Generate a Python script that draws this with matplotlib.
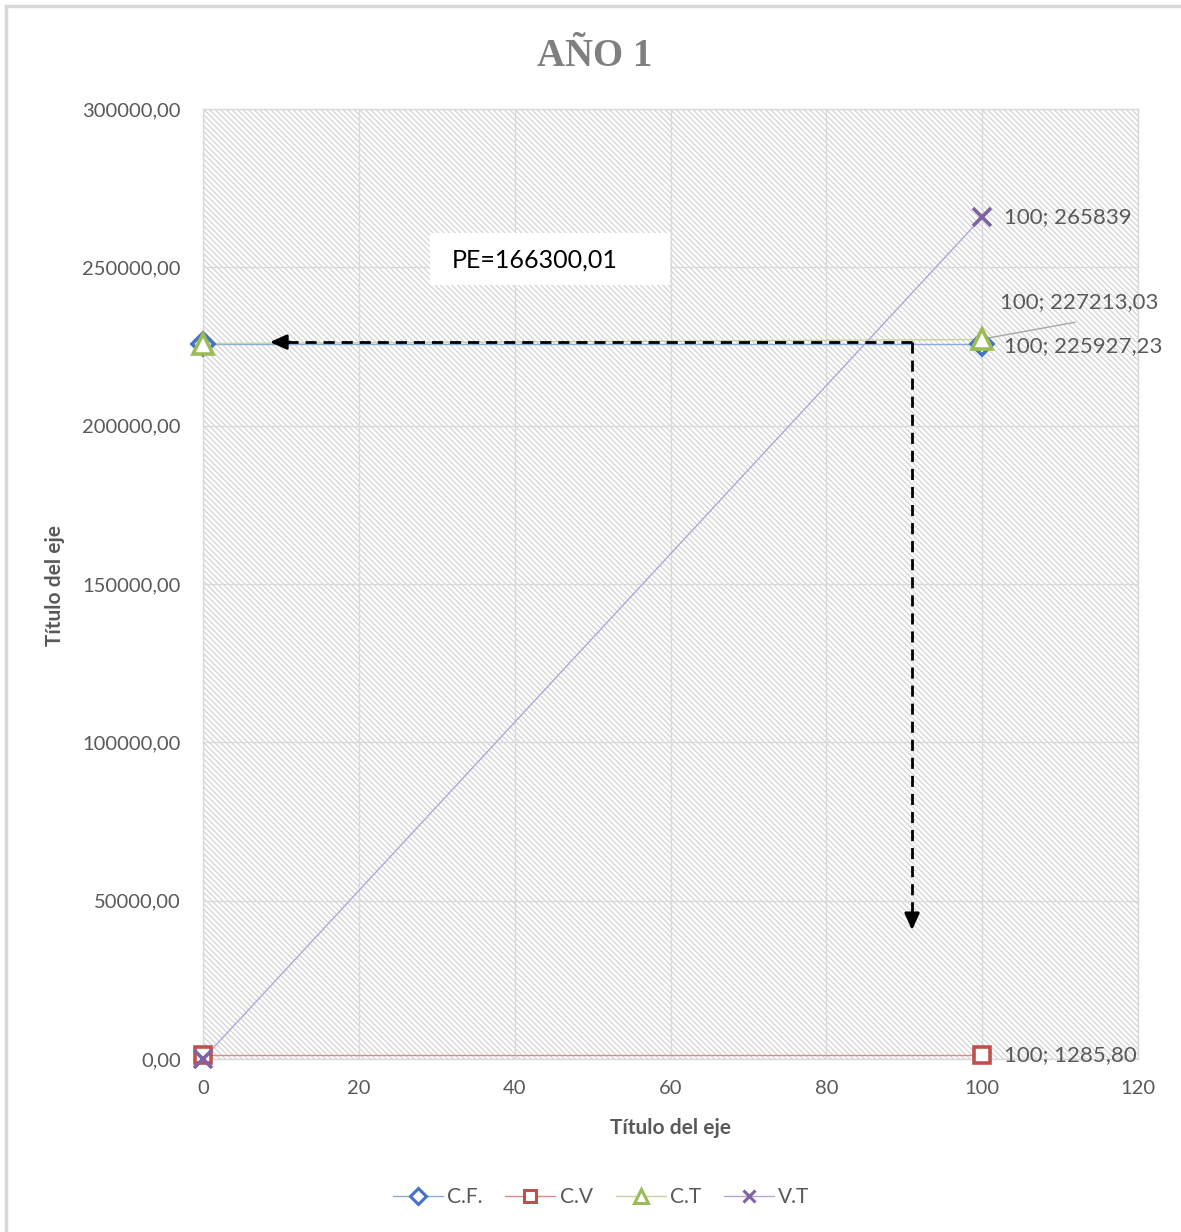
import matplotlib
matplotlib.use("Agg")
import matplotlib.pyplot as plt
from matplotlib.lines import Line2D
from matplotlib.patches import Rectangle
from matplotlib.ticker import FuncFormatter, MultipleLocator

# ---- data ----
x_vals = [0, 100]
cf = [225927.23, 225927.23]
cv = [1285.80, 1285.80]
ct = [225927.23, 227213.03]
vt = [0, 265839]
series_names = ["C.F.", "C.V", "C.T", "V.T"]
title = "AÑO 1"
x_title = "Título del eje"
y_title = "Título del eje"
pe_text = "PE=166300,01"
pe_x = 91
pe_y = 226400
pe_arrow_left_x = 8.6
pe_arrow_bottom_y = 40700

label_font = ["Lato", "DejaVu Sans"]
gray_txt = "#595959"

plt.rcParams["hatch.linewidth"] = 0.9
plt.rcParams["hatch.color"] = "#d3d3d3"

fig = plt.figure(figsize=(11.81, 12.32), dpi=100)
W, H = 1181, 1232
ax = fig.add_axes([203 / W, 1 - 1059 / H, (1138 - 203) / W, (1059 - 109) / H])
ax.set_xlim(0, 120)
ax.set_ylim(0, 300000)

# hatched background
ax.add_patch(Rectangle((0, 0), 1, 1, transform=ax.transAxes, facecolor="white",
                       edgecolor="#d3d3d3", hatch="\\" * 6, linewidth=0, zorder=0))

ax.xaxis.set_major_locator(MultipleLocator(20))
ax.yaxis.set_major_locator(MultipleLocator(50000))
ax.yaxis.set_major_formatter(FuncFormatter(lambda v, p: f"{v:.2f}".replace(".", ",")))
ax.grid(True, color="#d9d9d9", linewidth=1.0, zorder=1)
ax.set_axisbelow(False)
for s in ax.spines.values():
    s.set_color("#d9d9d9")
    s.set_linewidth(1.0)
ax.tick_params(length=0, labelsize=14.5, labelcolor=gray_txt)
ax.tick_params(axis="y", pad=16)
ax.tick_params(axis="x", pad=15)
for lab in ax.get_xticklabels() + ax.get_yticklabels():
    lab.set_fontfamily(label_font)

styles = [
    dict(color="#4472c4", lc="#8eaadb", marker="D", ms=11),
    dict(color="#c0504d", lc="#e08a88", marker="s", ms=12),
    dict(color="#9bbb59", lc="#c3d69b", marker="^", ms=14),
    dict(color="#8064a2", lc="#b4a7d6", marker="x", ms=13),
]
data = [cf, cv, ct, vt]
for ys, st in zip(data, styles):
    ax.plot(x_vals, ys, color=st["lc"], linewidth=1.0, zorder=3, clip_on=False)
    ax.plot(x_vals, ys, linestyle="none", marker=st["marker"], markersize=st["ms"],
            markerfacecolor="white" if st["marker"] != "x" else st["color"],
            markeredgecolor=st["color"], markeredgewidth=2.6, zorder=4, clip_on=False)

# data labels
lab_kw = dict(fontsize=16, color=gray_txt, family=label_font, va="center", ha="left")
ax.annotate(f"{x_vals[1]}; {vt[1]:.0f}", (x_vals[1], vt[1]), xytext=(16, 0),
            textcoords="offset points", **lab_kw)
ax.annotate(f"{x_vals[1]}; {cf[1]:.2f}".replace(".", ","), (x_vals[1], cf[1]), xytext=(16, -2),
            textcoords="offset points", **lab_kw)
ax.annotate(f"{x_vals[1]}; {cv[1]:.2f}".replace(".", ","), (x_vals[1], cv[1]), xytext=(16, 0),
            textcoords="offset points", **lab_kw)
ax.annotate(f"{x_vals[1]}; {ct[1]:.2f}".replace(".", ","), (x_vals[1], ct[1]), xytext=(13, 27),
            textcoords="offset points", **lab_kw)
ax.annotate("", (x_vals[1] + 0.6, ct[1] + 400), xytext=(x_vals[1] + 12.3, ct[1] + 5600),
            arrowprops=dict(arrowstyle="-", color="#a6a6a6", lw=1.0))

# PE arrows
ax.plot([pe_x, pe_arrow_left_x + 2.2], [pe_y, pe_y], color="black", lw=2,
        linestyle=(0, (4, 2.5)), zorder=5)
ax.annotate("", (pe_arrow_left_x, pe_y), xytext=(pe_arrow_left_x + 2.5, pe_y),
            arrowprops=dict(arrowstyle="-|>,head_length=1.0,head_width=0.45",
                            color="black", lw=2, shrinkA=0, shrinkB=0), zorder=5)
ax.plot([pe_x, pe_x], [pe_y, pe_arrow_bottom_y + 5000], color="black", lw=2,
        linestyle=(0, (4, 2.5)), zorder=5)
ax.annotate("", (pe_x, pe_arrow_bottom_y), xytext=(pe_x, pe_arrow_bottom_y + 5500),
            arrowprops=dict(arrowstyle="-|>,head_length=1.0,head_width=0.45",
                            color="black", lw=2, shrinkA=0, shrinkB=0), zorder=5)

# PE text box
ax.add_patch(Rectangle((0.2428, 0.8147), 0.2567, 0.0548, transform=ax.transAxes,
                       facecolor="white", edgecolor="none", zorder=6))
ax.text(0.2663, 0.841, pe_text, transform=ax.transAxes, fontsize=18, color="black",
        family=label_font, va="center", ha="left", zorder=7)

# titles
fig.text(595 / W, 1 - 57 / H, title, fontsize=28, fontweight="bold", color="#7f7f7f",
         family=["Liberation Serif", "DejaVu Serif"], ha="center", va="center")
fig.text(670 / W, 1 - 1128 / H, x_title, fontsize=15, fontweight="bold", color=gray_txt,
         family=label_font, ha="center", va="center")
fig.text(55 / W, 1 - 585 / H, y_title, fontsize=15, fontweight="bold", color=gray_txt,
         family=label_font, ha="center", va="center", rotation=90)

# legend
handles = []
for name, st in zip(series_names, styles):
    handles.append(Line2D([0], [0], color=st["lc"], lw=1.0, marker=st["marker"],
                          markersize=st["ms"] * 0.7,
                          markerfacecolor="white" if st["marker"] != "x" else st["color"],
                          markeredgecolor=st["color"], markeredgewidth=2.2, label=name))
leg = fig.legend(handles=handles, loc="center", bbox_to_anchor=(601 / W, 1 - 1197 / H),
                 ncol=4, frameon=False, handlelength=2.4, columnspacing=1.1,
                 handletextpad=0.2, prop=dict(family=label_font, size=15))
for t in leg.get_texts():
    t.set_color(gray_txt)

# figure border
fig.add_artist(Line2D([6 / W, 1], [1 - 6 / H, 1 - 6 / H], color="#d9d9d9", lw=2.5))
fig.add_artist(Line2D([6 / W, 6 / W], [0, 1 - 6 / H], color="#d9d9d9", lw=2.5))

fig.savefig("out.png", dpi=100)
